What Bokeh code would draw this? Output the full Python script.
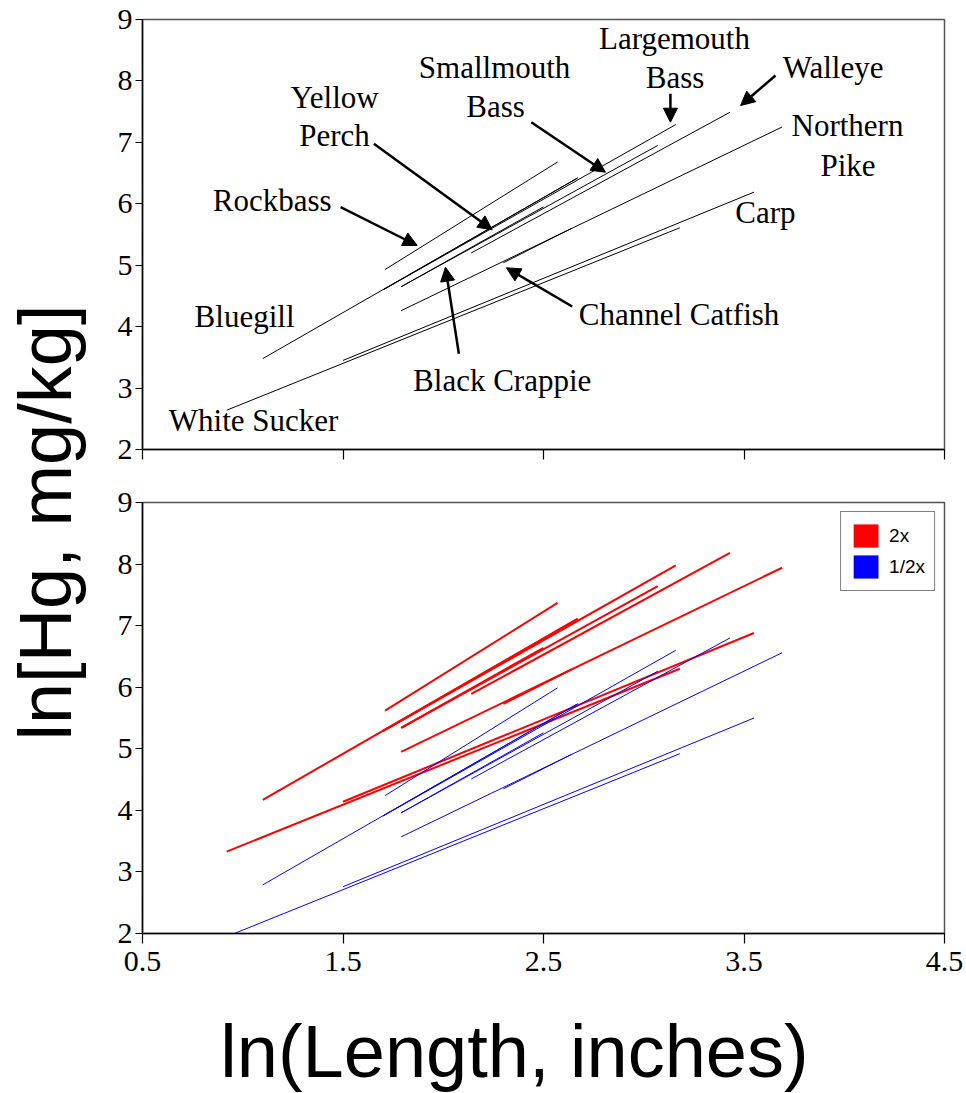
import math
from bokeh.plotting import figure
from bokeh.layouts import row, column
from bokeh.models import (ColumnDataSource, FixedTicker, Range1d, Arrow, NormalHead,
                          Label, Legend, LegendItem)
from bokeh.core.properties import value
from bokeh.embed import file_html
from bokeh.resources import INLINE

# ---------------- data ----------------
species = ["Rockbass", "Bluegill", "Yellow Perch", "Black Crappie", "Smallmouth Bass",
           "Largemouth Bass", "Walleye", "Northern Pike", "Channel Catfish", "Carp",
           "White Sucker"]
# ln(length) range of each regression line
x_start = [1.71, 1.10, 1.70, 1.79, 1.79, 1.70, 2.14, 1.79, 2.30, 1.50, 0.92]
x_end   = [2.57, 2.67, 2.67, 2.50, 3.07, 3.16, 3.43, 3.69, 2.64, 3.55, 3.18]
# top panel: ln(Hg)
y_start = [4.93, 3.48, 4.60, 4.65, 4.65, 4.60, 5.20, 4.26, 5.04, 3.45, 2.64]
y_end   = [6.68, 6.42, 6.42, 5.95, 6.95, 7.29, 7.49, 7.25, 5.60, 6.19, 5.61]
# bottom panel: 2x (red)
red_y_start = [5.62, 4.17, 5.29, 5.34, 5.34, 5.29, 5.89, 4.95, 5.73, 4.14, 3.33]
red_y_end   = [7.37, 7.11, 7.11, 6.64, 7.64, 7.98, 8.18, 7.94, 6.29, 6.88, 6.30]
# bottom panel: 1/2x (blue)
blue_y_start = [4.24, 2.79, 3.91, 3.96, 3.96, 3.91, 4.51, 3.57, 4.35, 2.76, 1.95]
blue_y_end   = [5.99, 5.73, 5.73, 5.26, 6.26, 6.60, 6.80, 6.56, 4.91, 5.50, 4.92]

x_ticks = [0.5, 1.5, 2.5, 3.5, 4.5]
y_ticks = [2, 3, 4, 5, 6, 7, 8, 9]
legend_labels = ["2x", "1/2x"]

# annotation texts (top panel)
label_text = ["Largemouth", "Bass", "Smallmouth", "Bass", "Yellow", "Perch", "Walleye",
              "Northern", "Pike", "Rockbass", "Carp", "Bluegill", "Channel Catfish",
              "Black Crappie", "White Sucker"]
label_x = [3.153, 3.156, 2.256, 2.261, 1.458, 1.458, 3.944, 4.016, 4.019, 1.147, 3.607,
           1.009, 3.176, 2.294, 1.054]
label_y = [8.69, 8.06, 8.22, 7.59, 7.73, 7.11, 8.22, 7.27, 6.63, 6.05, 5.86,
           4.17, 4.20, 3.12, 2.48]
# arrows: tail -> tip
arrow_x0 = [1.488, 1.654, 2.439, 3.133, 3.657, 2.643, 2.078]
arrow_y0 = [5.944, 6.977, 7.328, 7.790, 8.088, 4.328, 3.558]
arrow_x1 = [1.870, 2.244, 2.809, 3.133, 3.483, 2.315, 2.011]
arrow_y1 = [5.321, 5.577, 6.514, 7.328, 7.600, 4.958, 4.968]

SERIF = "Liberation Serif"
SANS = "Liberation Sans"
NAN = float("nan")


def make_panel(height, border_top, border_bottom):
    p = figure(width=871, height=height, x_range=Range1d(0.5, 4.5), y_range=Range1d(2, 9),
               output_backend="svg", toolbar_location=None,
               min_border_left=47, min_border_right=22,
               min_border_top=border_top, min_border_bottom=border_bottom)
    p.grid.visible = False
    p.outline_line_color = "#555555"
    p.outline_line_width = 1.5
    p.xaxis.ticker = FixedTicker(ticks=x_ticks)
    p.yaxis.ticker = FixedTicker(ticks=y_ticks)
    for ax in (p.xaxis[0], p.yaxis[0]):
        ax.axis_line_color = "black"
        ax.axis_line_width = 1.5
        ax.major_tick_line_color = "black"
        ax.major_tick_line_width = 1.2
        ax.major_tick_in = 0
        ax.minor_tick_line_color = None
        ax.major_label_text_font = SERIF
        ax.major_label_text_font_size = "30px"
        ax.major_label_text_color = "black"
    p.yaxis.major_tick_out = 7
    p.yaxis.major_label_standoff = 3
    p.xaxis.major_tick_out = 10
    p.xaxis.major_label_standoff = 8
    return p


# ---------------- top panel ----------------
top = make_panel(474, 19, 25)
top.xaxis.major_label_text_color = None
top.xaxis.major_label_text_font_size = "2px"
top.xaxis.major_label_standoff = 0

src_top = ColumnDataSource(dict(
    xs=[[a, b] for a, b in zip(x_start, x_end)],
    ys=[[a, b] for a, b in zip(y_start, y_end)],
    name=species))
top.multi_line("xs", "ys", source=src_top, line_color="black", line_width=1)

for xa, ya, xb, yb in zip(arrow_x0, arrow_y0, arrow_x1, arrow_y1):
    top.add_layout(Arrow(x_start=xa, y_start=ya, x_end=xb, y_end=yb,
                         line_color="black", line_width=2.5,
                         end=NormalHead(size=14, fill_color="black", line_color="black",
                                        line_width=1)))

src_lab = ColumnDataSource(dict(x=label_x, y=label_y, text=label_text))
top.text("x", "y", text="text", source=src_lab, text_font=value(SERIF),
         text_font_size=value("31px"), text_align="center",
         text_baseline="alphabetic", text_color="black")

# ---------------- bottom panel ----------------
bot = make_panel(519, 28, 60)

src_red = ColumnDataSource(dict(
    xs=[[a, b] for a, b in zip(x_start, x_end)],
    ys=[[a, b] for a, b in zip(red_y_start, red_y_end)]))
src_blue = ColumnDataSource(dict(
    xs=[[a, b] for a, b in zip(x_start, x_end)],
    ys=[[a, b] for a, b in zip(blue_y_start, blue_y_end)]))
bot.multi_line("xs", "ys", source=src_red, line_color="#FF0000", line_width=2)
bot.multi_line("xs", "ys", source=src_blue, line_color="#0000FF", line_width=1)

# legend swatches (no visible marks)
sw_red = bot.quad(left=[NAN], right=[NAN], top=[NAN], bottom=[NAN],
                  fill_color="#FF0000", line_color=None)
sw_blue = bot.quad(left=[NAN], right=[NAN], top=[NAN], bottom=[NAN],
                   fill_color="#0000FF", line_color=None)
legend = Legend(items=[LegendItem(label=legend_labels[0], renderers=[sw_red]),
                       LegendItem(label=legend_labels[1], renderers=[sw_blue])],
                location="top_right")
legend.border_line_color = "black"
legend.border_line_width = 1.5
legend.background_fill_color = "white"
legend.background_fill_alpha = 1
legend.padding = 9
legend.spacing = 2
legend.glyph_width = 31
legend.glyph_height = 29
legend.label_height = 29
legend.label_standoff = 8
legend.margin = 9
legend.label_text_font = SANS
legend.label_text_font_size = "19px"
legend.label_text_color = "black"
bot.add_layout(legend)

# ---------------- shared x-axis title (own strip, page pixel coords) ----------------
xlab = figure(width=871, height=100, x_range=Range1d(95, 966), y_range=Range1d(0, 100),
              x_axis_type=None, y_axis_type=None, min_border=0,
              output_backend="svg", toolbar_location=None)
xlab.outline_line_color = None
xlab.grid.visible = False
xlab.add_layout(Label(x=499, y=42, text="ln(Length, inches)",
                      text_align="center", text_baseline="alphabetic",
                      text_font=SANS, text_font_size="74px", text_color="black"))

# ---------------- shared y-axis title ----------------
ylab = figure(width=95, height=1093, x_range=Range1d(0, 95), y_range=Range1d(0, 1093),
              x_axis_type=None, y_axis_type=None, min_border=0,
              output_backend="svg", toolbar_location=None)
ylab.outline_line_color = None
ylab.grid.visible = False
ylab.add_layout(Label(x=45, y=571, text="ln[Hg, mg/kg]", angle=math.pi / 2,
                      text_align="center", text_baseline="alphabetic",
                      text_font=SANS, text_font_size="74px", text_color="black"))

layout = row(ylab, column(top, bot, xlab))
open("out.html", "w").write(file_html(layout, INLINE))
